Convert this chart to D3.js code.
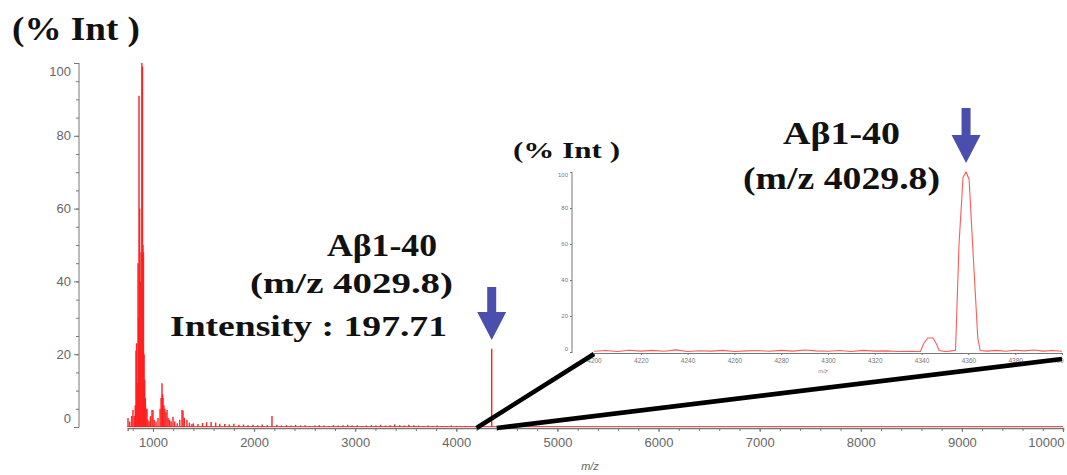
<!DOCTYPE html>
<html>
<head>
<meta charset="utf-8">
<script src="https://d3js.org/d3.v7.min.js"></script>
<style>
body { margin: 0; background: #fff; }
.axis line, .axis path { stroke: #777; }
</style>
</head>
<body>
<div id="chart"></div>
<script>
// main spectrum, low mass cluster (m/z, % intensity)
const clusterMz  = [753, 770, 790, 802, 815, 825, 832, 838, 845, 852, 858, 862, 868, 875, 882, 890, 896, 901, 906, 912,
                    918, 925, 932, 941, 950, 962, 975, 990, 1000, 1012, 1030, 1050, 1070, 1080, 1089, 1095, 1099, 1108, 1118, 1128,
                    1139, 1150, 1165, 1180, 1198, 1215, 1240, 1265, 1287, 1297, 1310, 1336, 1360, 1385];
const clusterInt = [2.5, 1.5, 3, 4.7, 3, 6, 21, 23, 12, 45, 30, 91, 60, 40, 48, 100, 99, 50, 48, 20,
                    13, 8, 5, 5, 2, 1.5, 3, 4.7, 4.7, 2, 1.5, 2.5, 5, 8, 12, 9, 8, 6, 5, 4,
                    4.7, 2.5, 2, 1.5, 2.8, 1.5, 1, 2, 4.7, 4.5, 2.5, 2, 1.2, 0.8];
// baseline noise up to the analyte peak
const noiseMz  = [1400, 1445, 1490, 1530, 1575, 1620, 1660, 1710, 1755, 1800, 1850, 1895, 1940, 1990, 2035, 2080, 2130, 2177, 2225, 2270,
                  2320, 2365, 2410, 2460, 2505, 2550, 2600, 2645, 2690, 2740, 2785, 2830, 2880, 2925, 2970, 3020, 3065, 3110, 3160, 3205,
                  3250, 3300, 3345, 3390, 3440, 3485, 3530, 3580, 3625, 3670, 3720, 3765, 3810, 3860, 3905, 3950, 4000, 4045, 4090, 4140];
const noiseInt = [1.0, 0.8, 1.1, 1.3, 1.4, 1.2, 0.9, 0.8, 0.7, 0.9, 0.6, 0.7, 0.5, 0.6, 0.5, 0.7, 0.5, 3.0, 0.6, 0.4,
                  0.5, 0.4, 0.6, 0.4, 0.5, 0.3, 0.4, 0.5, 0.4, 0.3, 0.5, 0.4, 0.5, 0.6, 0.4, 0.5, 0.3, 0.4, 0.5, 0.4,
                  0.6, 0.4, 0.5, 0.7, 0.5, 0.4, 0.6, 0.5, 0.4, 0.3, 0.4, 0.3, 0.4, 0.3, 0.3, 0.4, 0.3, 0.2, 0.3, 0.2];
const abMz = 4350, abInt = 21.5;

const mainXTicks = [1000, 2000, 3000, 4000, 5000, 6000, 7000, 8000, 9000, 10000];
const mainYTicks = [0, 20, 40, 60, 80, 100];

// zoomed profile 4200 - 4400
const insetMz  = [4200, 4205, 4210, 4215, 4220, 4225, 4230, 4235, 4240, 4245, 4250, 4255, 4260, 4265, 4270, 4275, 4280, 4285, 4290, 4295,
                  4300, 4305, 4310, 4315, 4320, 4325, 4330, 4335, 4339.5, 4341, 4342.7, 4344.9, 4346.5, 4347.5, 4350, 4352, 4354.5,
                  4356, 4357.7, 4359, 4360.3, 4362, 4364, 4365, 4368, 4372, 4376, 4380, 4384, 4388, 4392, 4396, 4400];
const insetInt = [0.4, 0.8, 0.3, 1.0, 0.5, 0.9, 0.4, 1.2, 0.3, 0.7, 0.5, 0.9, 0.3, 0.6, 0.8, 0.4, 0.9, 0.5, 1.1, 0.6,
                  0.4, 0.8, 0.3, 0.9, 0.5, 0.6, 0.3, 0.4, 0.3, 5, 7.8, 7.8, 4, 0.8, 0.3, 0.5, 1,
                  60, 97, 100, 96, 55, 8, 0.8, 0.5, 0.9, 0.4, 1.0, 0.6, 1.1, 0.5, 0.8, 0.4];
const insetXTicks = [4200, 4220, 4240, 4260, 4280, 4300, 4320, 4340, 4360, 4380, 4400];
const insetYTicks = [0, 20, 40, 60, 80, 100];
const insetPeak = 4359;

const sansFont = "'Liberation Sans', Arial, Helvetica, sans-serif";
const serifFont = "'Liberation Serif', 'Times New Roman', Times, serif";

const width = 1067, height = 475;
const svg = d3.select("#chart").append("svg")
    .attr("width", width)
    .attr("height", height);

// ---- main plot ----
let x = d3.scaleLinear().domain([750, 10000]).range([127.7, 1063]);
let y = d3.scaleLinear().domain([0, 100]).range([427, 63]);
let yAxisX = 79;

// x axis (minor + major)
svg.append("g")
    .attr("class", "axis")
    .attr("transform", "translate(0," + (y(0) + 1) + ")")
    .call(d3.axisBottom(x).tickValues(d3.range(800, 10001, 200)).tickSize(3).tickFormat(""))
    .call(g => g.select(".domain").attr("stroke", "#6a4444").attr("stroke-width", 1.5));

let xAx = svg.append("g")
    .attr("class", "axis")
    .attr("transform", "translate(0," + (y(0) + 1) + ")")
    .call(d3.axisBottom(x).tickValues(mainXTicks).tickSize(4).tickPadding(6).tickFormat(d3.format("d")));
xAx.select(".domain").remove();
xAx.selectAll("text").style("font-size", "13px").style("font-family", sansFont).style("fill", "#666");
xAx.selectAll("text").filter(d => d == 10000).attr("text-anchor", "end").attr("dx", 1);

// y axis
svg.append("g")
    .attr("class", "axis")
    .attr("transform", "translate(" + yAxisX + ",0)")
    .call(d3.axisLeft(y).tickValues(d3.range(0, 101, 5)).tickSize(3).tickFormat(""))
    .select(".domain").attr("d", "M0," + y(0) + "V" + y(100));

let yAx = svg.append("g")
    .attr("class", "axis")
    .attr("transform", "translate(" + yAxisX + ",0)")
    .call(d3.axisLeft(y).tickValues(mainYTicks).tickSize(5).tickPadding(3));
yAx.select(".domain").remove();
yAx.selectAll("text").style("font-size", "13px").style("font-family", sansFont).style("fill", "#666");
yAx.selectAll("text").filter(d => d == 0).attr("dy", "-0.35em");
yAx.selectAll("text").filter(d => d == 100).attr("dy", "0.95em");

svg.append("text")
    .attr("x", 590).attr("y", 470)
    .attr("text-anchor", "middle")
    .style("font-family", sansFont)
    .style("font-style", "italic")
    .style("font-size", "11px")
    .style("fill", "#666")
    .text("m/z");

// spectrum baseline + sticks
let peaks = [];
for (let i = 0; i < clusterMz.length; i++) peaks.push({mz: clusterMz[i], v: clusterInt[i]});
for (let i = 0; i < noiseMz.length; i++) peaks.push({mz: noiseMz[i], v: noiseInt[i]});
peaks.push({mz: abMz, v: abInt});

svg.append("line")
    .attr("x1", x(750)).attr("x2", x(10000))
    .attr("y1", y(0) - 0.5).attr("y2", y(0) - 0.5)
    .attr("stroke", "#e05555")
    .attr("stroke-width", 1);

svg.append("g")
    .selectAll("line")
    .data(peaks)
    .enter().append("line")
    .attr("x1", d => x(d.mz)).attr("x2", d => x(d.mz))
    .attr("y1", y(0)).attr("y2", d => y(d.v))
    .attr("stroke", "#ff2020")
    .attr("stroke-width", 1.4);

// ---- inset ----
let xi = d3.scaleLinear().domain([4200, 4400]).range([594, 1062]);
let yi = d3.scaleLinear().domain([0, 100]).range([352, 172]);

let yiAx = svg.append("g")
    .attr("class", "axis")
    .attr("transform", "translate(572,0)")
    .call(d3.axisLeft(yi).tickValues(insetYTicks).tickSize(2).tickPadding(2));
yiAx.select(".domain").attr("d", "M0," + (yi(0) + 1) + "V" + yi(100)).attr("stroke", "#999");
yiAx.selectAll("text").style("font-size", "6px").style("font-family", sansFont).style("fill", "#777");
yiAx.selectAll("text").filter(d => d == 0).attr("dy", "-0.3em");
yiAx.selectAll("text").filter(d => d == 100).attr("dy", "0.7em");

let xiAx = svg.append("g")
    .attr("class", "axis")
    .attr("transform", "translate(0," + (yi(0) + 1) + ")")
    .call(d3.axisBottom(xi).tickValues(insetXTicks).tickSize(2).tickPadding(3).tickFormat(d3.format("d")));
xiAx.select(".domain").attr("stroke", "#d99");
xiAx.selectAll("text").style("font-size", "6.5px").style("font-family", sansFont).style("fill", "#777");
xiAx.selectAll("text").filter(d => d == 4400).attr("text-anchor", "end").attr("dx", 1);

svg.append("text")
    .attr("x", 823).attr("y", 373)
    .attr("text-anchor", "middle")
    .style("font-family", sansFont)
    .style("font-style", "italic")
    .style("font-size", "6px")
    .style("fill", "#888")
    .text("m/z");

let insetData = insetMz.map((m, i) => ({mz: m, v: insetInt[i]}));
svg.append("path")
    .datum(insetData)
    .attr("fill", "none")
    .attr("stroke", "#ff5a5a")
    .attr("stroke-width", 1.1)
    .attr("d", d3.line().x(d => xi(d.mz)).y(d => yi(d.v)));

// zoom connectors
svg.append("line")
    .attr("x1", x(4200)).attr("y1", y(0) + 1)
    .attr("x2", xi(4200)).attr("y2", yi(0) + 2)
    .attr("stroke", "#000").attr("stroke-width", 4.5);
svg.append("line")
    .attr("x1", x(4400)).attr("y1", y(0) + 1)
    .attr("x2", xi(4400)).attr("y2", yi(0) + 7)
    .attr("stroke", "#000").attr("stroke-width", 4.5);

// arrows
function arrow(cx, top, headStart, tip) {
    let p = d3.path();
    p.moveTo(cx - 4.5, top);
    p.lineTo(cx + 4.5, top);
    p.lineTo(cx + 4.5, headStart);
    p.lineTo(cx + 14.5, headStart);
    p.lineTo(cx, tip);
    p.lineTo(cx - 14.5, headStart);
    p.lineTo(cx - 4.5, headStart);
    p.closePath();
    svg.append("path").attr("d", p.toString()).attr("fill", "#4a4fae");
}
arrow(x(abMz), 287, 312, 340);
arrow(xi(insetPeak), 108, 135, 163);

// labels
function label(txt, x0, yb, size, len) {
    svg.append("text")
        .attr("x", x0).attr("y", yb)
        .attr("textLength", len)
        .attr("lengthAdjust", "spacingAndGlyphs")
        .style("font-family", serifFont)
        .style("font-weight", "bold")
        .style("fill", "#111")
        .style("font-size", size + "px")
        .text(txt);
}
label("(% Int )", 12, 40, 34, 128);
label("Aβ1-40", 327, 256, 31, 110);
label("(m/z 4029.8)", 250, 293, 30, 203);
label("Intensity : 197.71", 170, 336, 29, 277);
label("(% Int )", 513, 158, 23, 107);
label("Aβ1-40", 783, 144, 31, 117);
label("(m/z 4029.8)", 743, 189, 31, 197);
</script>
</body>
</html>
